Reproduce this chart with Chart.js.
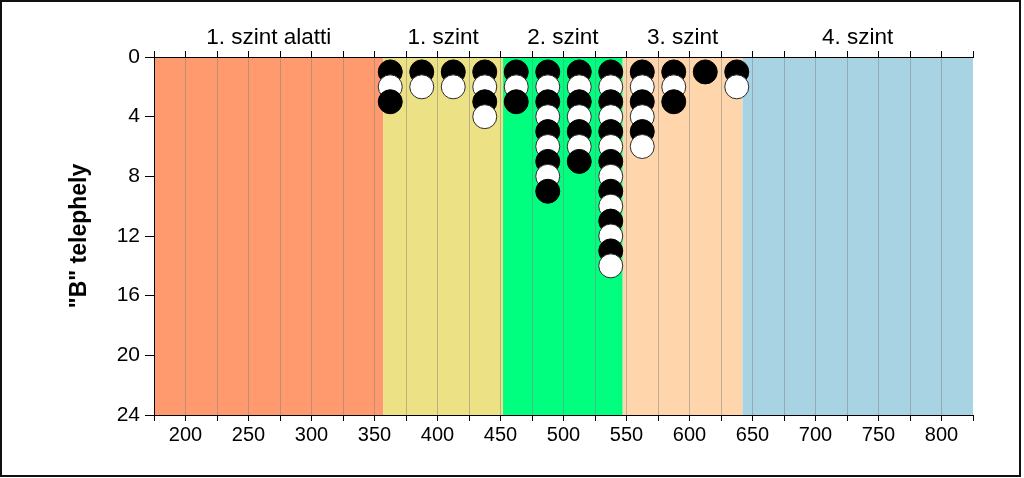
<!DOCTYPE html>
<html lang="hu">
<head>
  <meta charset="UTF-8">
  <title>"B" telephely</title>
  <script src="https://cdn.jsdelivr.net/npm/chart.js"></script>
  <style>
    html, body { margin: 0; padding: 0; background: #fff; }
    #wrap { width: 1024px; height: 478px; position: relative; }
  </style>
</head>
<body>
  <div id="wrap"><canvas id="chart"></canvas></div>

  <script>
    // Columns of stacked dots (bin centres) and how many dots in each
    var columns = [362.5, 387.5, 412.5, 437.5, 462.5, 487.5, 512.5, 537.5, 562.5, 587.5, 612.5, 637.5];
    var counts  = [3, 2, 2, 4, 3, 9, 7, 14, 6, 3, 1, 2];

    // Background bands (levels)
    var bandEdges  = [175, 357, 452, 547, 642, 825];
    var bandNames  = ['1. szint alatti', '1. szint', '2. szint', '3. szint', '4. szint'];
    var bandColors = ['#ff9a6f', '#ece285', '#00ff7f', '#ffd6ab', '#a7d3e3'];

    var xMin = 175, xMax = 825;
    var yTicks = [0, 4, 8, 12, 16, 20, 24];

    var FONT = '"Liberation Sans", Arial, sans-serif';

    // build the points: one dot per unit, alternating black / white
    var points = [], fills = [], borders = [];
    columns.forEach(function(x, i) {
      for (var k = 1; k <= counts[i]; k++) {
        points.push({ x: x, y: k });
        fills.push(k % 2 ? '#000000' : '#ffffff');
        borders.push(k % 2 ? '#000000' : '#2a2a2a');
      }
    });

    // colored bands behind the grid, level names above the plot
    var bandsPlugin = {
      id: 'bands',
      beforeDraw: function(chart) {
        var ctx = chart.ctx, a = chart.chartArea, xs = chart.scales.x;
        ctx.save();
        for (var i = 0; i < bandNames.length; i++) {
          var l = xs.getPixelForValue(bandEdges[i]);
          var r = xs.getPixelForValue(bandEdges[i + 1]);
          ctx.fillStyle = bandColors[i];
          ctx.fillRect(l, a.top, r - l, a.bottom - a.top);
        }
        ctx.restore();
      },
      afterDraw: function(chart) {
        var ctx = chart.ctx, xs = chart.scales.x;
        ctx.save();
        ctx.fillStyle = '#000';
        ctx.font = '22.5px ' + FONT;
        ctx.textAlign = 'center';
        ctx.textBaseline = 'middle';
        for (var i = 0; i < bandNames.length; i++) {
          var c = (xs.getPixelForValue(bandEdges[i]) + xs.getPixelForValue(bandEdges[i + 1])) / 2;
          ctx.fillText(bandNames[i], c, 38);
        }
        // outer frame
        ctx.strokeStyle = '#111';
        ctx.lineWidth = 2;
        ctx.strokeRect(1, 1, 1019, 475);
        ctx.restore();
      }
    };

    var ctx = document.getElementById('chart').getContext('2d');
    new Chart(ctx, {
      type: 'scatter',
      data: {
        datasets: [{
          data: points,
          pointRadius: 12,
          pointHoverRadius: 12,
          pointBackgroundColor: fills,
          pointBorderColor: borders,
          pointBorderWidth: 1
        }]
      },
      options: {
        responsive: true,
        maintainAspectRatio: false,
        animation: false,
        layout: { padding: { left: 0, right: 51, top: 0, bottom: 0 } },
        plugins: { legend: { display: false }, tooltip: { enabled: false } },
        scales: {
          x: {
            type: 'linear',
            position: 'bottom',
            min: xMin, max: xMax,
            afterFit: function(s) { s.height = 63; },
            ticks: {
              stepSize: 25,
              autoSkip: false,
              maxRotation: 0,
              padding: 2,
              color: '#000',
              font: { family: FONT, size: 20 },
              callback: function(v) { return v % 50 === 0 ? v : ''; }
            },
            grid: {
              color: function(c) {
                var v = c.tick && c.tick.value;
                return (v === xMin || v === xMax) ? 'rgba(0,0,0,0)' : 'rgba(130,130,130,0.5)';
              },
              lineWidth: 1,
              tickLength: 6,
              tickColor: '#000'
            },
            border: { color: '#000', width: 1 }
          },
          x2: {
            type: 'linear',
            position: 'top',
            min: xMin, max: xMax,
            afterFit: function(s) { s.height = 57; },
            ticks: { stepSize: 25, autoSkip: false, display: true, callback: function() { return ''; } },
            grid: { drawOnChartArea: false, tickLength: 6, tickColor: '#000' },
            border: { color: '#000', width: 1 }
          },
          y: {
            type: 'linear',
            reverse: true,
            min: 0, max: 24,
            afterFit: function(s) { s.width = 154; },
            afterBuildTicks: function(s) { s.ticks = yTicks.map(function(v) { return { value: v }; }); },
            ticks: {
              color: '#000',
              padding: 5,
              font: { family: FONT, size: 21 }
            },
            grid: { drawOnChartArea: false, tickLength: 9, tickColor: '#000' },
            border: { color: '#000', width: 1 },
            title: {
              display: true,
              text: '"B" telephely',
              color: '#000',
              padding: { top: 66 },
              font: { family: FONT, size: 23, weight: 'bold' }
            }
          }
        }
      },
      plugins: [bandsPlugin]
    });
  </script>
</body>
</html>
